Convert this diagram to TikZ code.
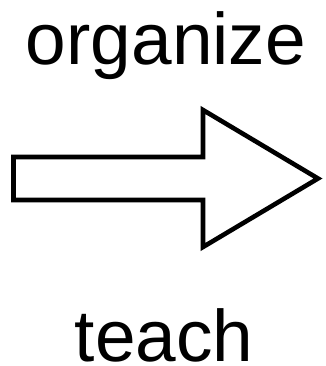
\documentclass[tikz,border=0pt]{standalone}
\usepackage{fontspec}
\setmainfont{Liberation Sans}
\usepackage{tikz}
\usetikzlibrary{arrows.meta,positioning,calc}

\tikzset{
  bigword/.style={font=\fontsize{73}{80}\selectfont, inner sep=0pt, anchor=base},
  blockarrow/.style={line width=4.6pt, line join=miter, fill=white}
}

\begin{document}
\begin{tikzpicture}[x=1pt,y=-1pt]
  \useasboundingbox (0,0) rectangle (325,366);
  % Top and bottom labels
  \node[bigword] (organize) at (166,65) {organize};
  \node[bigword] (teach) at (164,361) {teach};
  % Block arrow
  \draw[blockarrow]
    (13.5,157) -- (203,157) -- (203,110) -- (318,178.5) --
    (203,247) -- (203,200) -- (13.5,200) -- cycle;
\end{tikzpicture}
\end{document}
